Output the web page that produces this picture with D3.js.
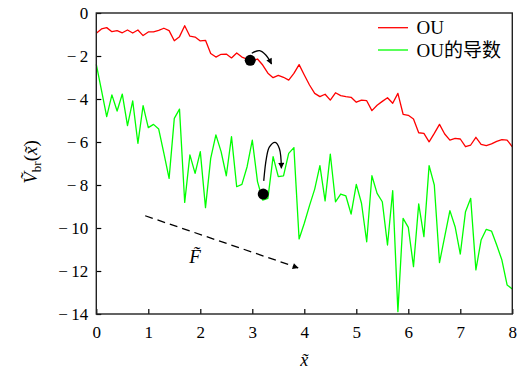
<!DOCTYPE html>
<html>
<head>
<meta charset="utf-8">
<script src="https://cdn.jsdelivr.net/npm/d3@7"></script>
<style>
  body { margin: 0; background: #fff; }
  text { font-family: "Liberation Serif", "Noto Sans CJK SC", serif; fill: #000; }
</style>
</head>
<body>
<div id="chart"></div>
<script>
// sampled every 0.1 on x, from 0 to 8
const xStep = 0.1;
const ouValues = [
  -0.94, -0.74, -0.68, -0.87, -0.82, -0.92, -0.79, -0.93, -0.79, -1.05,
  -0.88, -0.88, -0.81, -0.71, -0.82, -1.29, -1.10, -0.59, -1.08, -1.12,
  -1.30, -1.27, -1.88, -2.05, -1.92, -1.91, -2.09, -1.86, -2.05, -2.15,
  -2.22, -2.14, -2.42, -2.80, -3.01, -2.90, -2.99, -3.12, -2.81, -2.40,
  -2.88, -3.35, -3.74, -3.89, -3.78, -4.05, -3.71, -3.84, -3.89, -3.92,
  -4.15, -4.05, -4.08, -4.54, -4.29, -4.11, -3.94, -4.20, -3.74, -4.71,
  -4.76, -4.93, -5.57, -5.60, -5.99, -5.60, -5.18, -5.63, -5.91, -5.83,
  -5.86, -6.22, -6.14, -5.78, -6.11, -6.17, -6.09, -5.97, -5.89, -5.91,
  -6.22
];
const derivValues = [
  -2.39, -3.60, -4.82, -3.81, -4.56, -3.77, -5.24, -4.09, -6.06, -4.31,
  -5.33, -5.18, -5.40, -6.53, -7.69, -4.90, -4.47, -8.81, -6.60, -7.46,
  -6.45, -9.05, -6.76, -5.67, -6.45, -7.57, -5.75, -8.08, -7.97, -7.15,
  -5.91, -7.84, -8.70, -8.62, -6.68, -7.61, -7.58, -6.53, -6.26, -10.51,
  -9.78, -8.96, -8.19, -7.10, -8.74, -6.56, -8.78, -8.42, -8.51, -9.35,
  -7.97, -8.85, -10.64, -7.57, -8.39, -8.78, -10.79, -8.26, -13.89, -9.55,
  -9.97, -11.80, -8.88, -10.40, -7.10, -8.00, -11.61, -10.40, -9.19, -9.94,
  -11.21, -9.24, -8.62, -11.95, -10.56, -10.06, -10.14, -10.79, -11.49, -12.65,
  -12.84
];
const seriesNames = ['OU', 'OU的导数'];
const seriesColors = ['#ff0000', '#00ff00'];
const xTicks = [0, 1, 2, 3, 4, 5, 6, 7, 8];
const yTicks = [0, -2, -4, -6, -8, -10, -12, -14];

// annotation anchors, in data units
const balls = [[2.96, -2.2], [3.21, -8.42]];
const redTurn = [[2.99, -1.87], [3.14, -1.75], [3.26, -1.95], [3.37, -2.37]];
const greenTurn = [[3.22, -7.81], [3.27, -6.77], [3.33, -6.23], [3.44, -6.02], [3.52, -6.30], [3.56, -7.22]];
const forceArrow = [[0.94, -9.43], [3.88, -11.85]];
const forceLabel = [1.9, -11.61];

const width = 519, height = 372;
const margin = { top: 13, right: 6.7, bottom: 58, left: 96.3 };
const w = width - margin.left - margin.right;
const h = height - margin.top - margin.bottom;

const svg = d3.select('#chart').append('svg')
  .attr('width', width)
  .attr('height', height);

const defs = svg.append('defs');
defs.append('marker')
  .attr('id', 'head')
  .attr('viewBox', '0 0 10 10')
  .attr('refX', 9).attr('refY', 5)
  .attr('markerWidth', 8).attr('markerHeight', 6)
  .attr('markerUnits', 'userSpaceOnUse')
  .attr('orient', 'auto')
  .append('path').attr('d', 'M0,0 L10,5 L0,10 z').attr('fill', '#000');

const g = svg.append('g').attr('transform', `translate(${margin.left},${margin.top})`);

const x = d3.scaleLinear().domain([0, 8]).range([0, w]);
const y = d3.scaleLinear().domain([-14, 0]).range([h, 0]);

// axes, ticks pointing inwards
const xAxis = d3.axisBottom(x).tickValues(xTicks).tickSizeInner(-5).tickSizeOuter(0).tickPadding(12);
const yAxis = d3.axisLeft(y).tickValues(yTicks).tickSizeInner(-5).tickSizeOuter(0).tickPadding(8)
  .tickFormat(d => d === 0 ? '0' : '\u2212\u2009' + (-d));

g.append('g').attr('transform', `translate(0,${h})`).call(xAxis)
  .call(a => a.select('.domain').remove())
  .call(a => a.selectAll('line').attr('stroke', '#000').attr('stroke-width', 1.2))
  .call(a => a.selectAll('text').attr('font-size', 17).attr('font-family', null));
g.append('g').call(yAxis)
  .call(a => a.select('.domain').remove())
  .call(a => a.selectAll('line').attr('stroke', '#000').attr('stroke-width', 1.2))
  .call(a => a.selectAll('text').attr('font-size', 17).attr('font-family', null));

// lines
const line = d3.line().x((d, i) => x(i * xStep)).y(d => y(d));
[ouValues, derivValues].forEach((vals, k) => {
  g.append('path')
    .datum(vals)
    .attr('fill', 'none')
    .attr('stroke', seriesColors[k])
    .attr('stroke-width', 1.3)
    .attr('stroke-linejoin', 'round')
    .attr('d', line);
});

// frame
g.append('rect')
  .attr('width', w).attr('height', h)
  .attr('fill', 'none').attr('stroke', '#222').attr('stroke-width', 1.4);

// annotations
g.selectAll('circle.ball').data(balls).enter().append('circle')
  .attr('class', 'ball')
  .attr('cx', d => x(d[0])).attr('cy', d => y(d[1]))
  .attr('r', 5.5).attr('fill', '#000');

const curve = d3.line().x(d => x(d[0])).y(d => y(d[1])).curve(d3.curveCatmullRom);
[redTurn, greenTurn].forEach(pts => {
  g.append('path').attr('d', curve(pts))
    .attr('fill', 'none').attr('stroke', '#000').attr('stroke-width', 1.3)
    .attr('marker-end', 'url(#head)');
});

g.append('path').attr('d', d3.line().x(d => x(d[0])).y(d => y(d[1]))(forceArrow))
  .attr('fill', 'none').attr('stroke', '#000').attr('stroke-width', 1.3)
  .attr('stroke-dasharray', '8,5')
  .attr('marker-end', 'url(#head)');

g.append('text')
  .attr('x', x(forceLabel[0])).attr('y', y(forceLabel[1]))
  .attr('text-anchor', 'middle').attr('font-size', 19).attr('font-style', 'italic')
  .text('F\u0303');

// legend
const legend = svg.append('g').attr('transform', 'translate(378,27.7)');
seriesNames.forEach((name, i) => {
  const row = legend.append('g').attr('transform', `translate(0,${i * 22.3})`);
  row.append('line').attr('x1', 0).attr('x2', 30)
    .attr('stroke', seriesColors[i]).attr('stroke-width', 1.3);
  row.append('text').attr('x', 38.5).attr('y', 6.6)
    .attr('font-size', 19).text(name);
});

// axis titles
svg.append('text')
  .attr('x', margin.left + w / 2).attr('y', 366)
  .attr('text-anchor', 'middle').attr('font-size', 18).attr('font-style', 'italic')
  .text('x\u0303');

const yt = svg.append('text')
  .attr('transform', 'translate(37,162) rotate(-90)')
  .attr('text-anchor', 'middle').attr('font-size', 19);
yt.append('tspan').attr('font-style', 'italic').text('V\u0303');
yt.append('tspan').attr('font-size', 13).attr('dy', 4).text('br');
yt.append('tspan').attr('dy', -4).text('(');
yt.append('tspan').attr('font-style', 'italic').text('x\u0303');
yt.append('tspan').text(')');
</script>
</body>
</html>
